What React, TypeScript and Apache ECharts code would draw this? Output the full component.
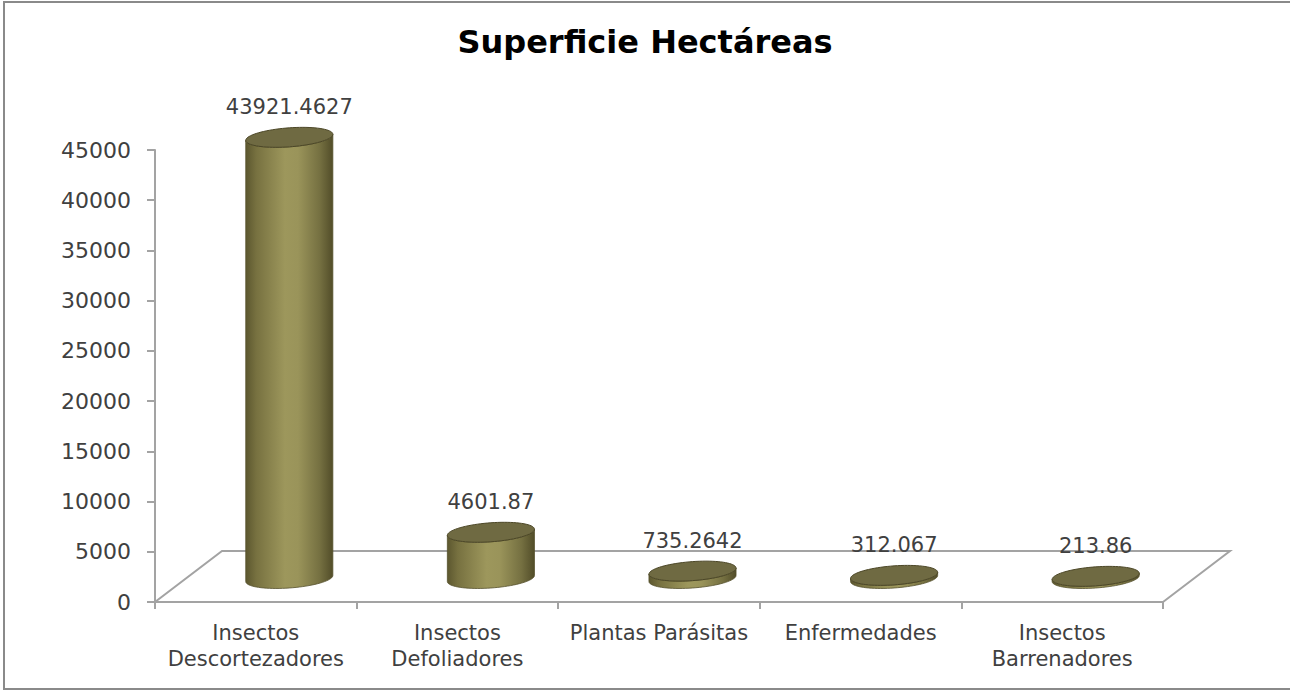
import React, { useEffect, useRef } from "react";
import * as echarts from "echarts";

// ---- data ----
const TITLE = "Superficie Hectáreas";
const CATEGORIES = [
  "Insectos\nDescortezadores",
  "Insectos\nDefoliadores",
  "Plantas Parásitas",
  "Enfermedades",
  "Insectos\nBarrenadores",
];
const VALUES = [43921.4627, 4601.87, 735.2642, 312.067, 213.86];
const Y_MIN = 0;
const Y_MAX = 45000;
const Y_STEP = 5000;

// ---- style ----
const FONT = '"DejaVu Sans", sans-serif';
const TEXT_COLOR = "#404040";
const LINE_COLOR = "#a3a3a3";
const DEPTH_X = 67;
const DEPTH_Y = 51;
const SHEAR = 0.07;

function ellipsePts(cx: number, cy: number, rx: number, ry: number, t0: number, t1: number, n: number) {
  const pts: number[][] = [];
  for (let i = 0; i <= n; i++) {
    const t = t0 + ((t1 - t0) * i) / n;
    pts.push([cx + rx * Math.cos(t), cy + ry * Math.sin(t) - SHEAR * rx * Math.cos(t)]);
  }
  return pts;
}

export default function App() {
  const ref = useRef<HTMLDivElement>(null);

  useEffect(() => {
    if (!ref.current) return;
    const chart = echarts.init(ref.current, null, { renderer: "svg" });

    const bodyGradient = {
      type: "linear",
      x: 0,
      y: 0,
      x2: 1,
      y2: 0,
      colorStops: [
        { offset: 0, color: "#5c572f" },
        { offset: 0.12, color: "#777140" },
        { offset: 0.45, color: "#9d975c" },
        { offset: 0.6, color: "#9a945a" },
        { offset: 0.85, color: "#757041" },
        { offset: 1, color: "#524d29" },
      ],
    };

    const option: any = {
      animation: false,
      backgroundColor: "#ffffff",
      title: {
        text: TITLE,
        left: "center",
        top: 24,
        padding: 0,
        textStyle: {
          fontFamily: FONT,
          fontSize: 32,
          fontWeight: "bold",
          color: "#000000",
          lineHeight: 36,
        },
      },
      graphic: [
        {
          type: "polyline",
          silent: true,
          z: -10,
          shape: {
            points: [
              [1300, 2],
              [4, 2],
              [4, 689],
              [1300, 689],
            ],
          },
          style: { fill: "none", stroke: "#8a8a8a", lineWidth: 2 },
        },
      ],
      grid: { left: 155, right: 127, top: 150, bottom: 90, containLabel: false },
      xAxis: {
        type: "category",
        data: CATEGORIES,
        boundaryGap: true,
        axisLine: { show: true, lineStyle: { color: LINE_COLOR, width: 2 } },
        axisTick: { show: true, length: 7, lineStyle: { color: LINE_COLOR, width: 2 } },
        axisLabel: {
          interval: 0,
          margin: 18,
          fontFamily: FONT,
          fontSize: 21,
          lineHeight: 26,
          color: TEXT_COLOR,
        },
        splitLine: { show: false },
      },
      yAxis: {
        type: "value",
        min: Y_MIN,
        max: Y_MAX,
        interval: Y_STEP,
        axisLine: { show: true, lineStyle: { color: LINE_COLOR, width: 2 } },
        axisTick: { show: true, length: 8, lineStyle: { color: LINE_COLOR, width: 2 } },
        axisLabel: {
          margin: 24,
          fontFamily: FONT,
          fontSize: 22,
          color: TEXT_COLOR,
          formatter: (v: number) => String(v),
        },
        splitLine: { show: false },
      },
      series: [
        {
          type: "custom",
          name: "floor",
          z: 1,
          silent: true,
          data: [[0, 0]],
          encode: { x: 0, y: 1 },
          renderItem: (params: any, api: any) => {
            const first = api.coord([0, 0]);
            const last = api.coord([CATEGORIES.length - 1, 0]);
            const bw = api.size([1, 0])[0];
            const left = first[0] - bw / 2;
            const right = last[0] + bw / 2;
            const y0 = first[1];
            return {
              type: "polyline",
              shape: {
                points: [
                  [left, y0],
                  [left + DEPTH_X, y0 - DEPTH_Y],
                  [right + DEPTH_X, y0 - DEPTH_Y],
                  [right, y0],
                ],
              },
              style: { stroke: LINE_COLOR, lineWidth: 2, fill: "none" },
            };
          },
        },
        {
          type: "custom",
          name: "Superficie",
          z: 2,
          data: VALUES.map((v, i) => [i, v]),
          encode: { x: 0, y: 1 },
          renderItem: (params: any, api: any) => {
            const i = api.value(0);
            const v = api.value(1);
            const p0 = api.coord([i, 0]);
            const p1 = api.coord([i, v]);
            const bw = api.size([1, 0])[0];
            const cx = p0[0] + DEPTH_X / 2;
            const by = p0[1] - DEPTH_Y / 2 + 2;
            const ty = p1[1] - DEPTH_Y / 2 + 2;
            const rx = bw * 0.216;
            const ry = 9.5;
            const body = [
              ...ellipsePts(cx, by, rx, ry, 0, Math.PI, 40),
              ...ellipsePts(cx, ty, rx, ry, Math.PI, 0, 40),
            ];
            const top = ellipsePts(cx, ty, rx, ry, 0, Math.PI * 2, 80);
            return {
              type: "group",
              children: [
                {
                  type: "polygon",
                  shape: { points: body },
                  style: { fill: bodyGradient, stroke: "#55502c", lineWidth: 0.8 },
                },
                {
                  type: "polygon",
                  shape: { points: top },
                  style: { fill: "#6f6a42", stroke: "#4c4727", lineWidth: 1 },
                },
                {
                  type: "text",
                  style: {
                    text: String(VALUES[i]),
                    x: cx,
                    y: ty - 30,
                    align: "center",
                    verticalAlign: "middle",
                    font: `21px ${FONT}`,
                    fill: TEXT_COLOR,
                  },
                },
              ],
            };
          },
        },
      ],
    };

    chart.setOption(option);
    return () => chart.dispose();
  }, []);

  return (
    <div
      ref={ref}
      style={{ position: "absolute", left: 0, top: 0, width: 1290, height: 692, background: "#fff" }}
    />
  );
}
